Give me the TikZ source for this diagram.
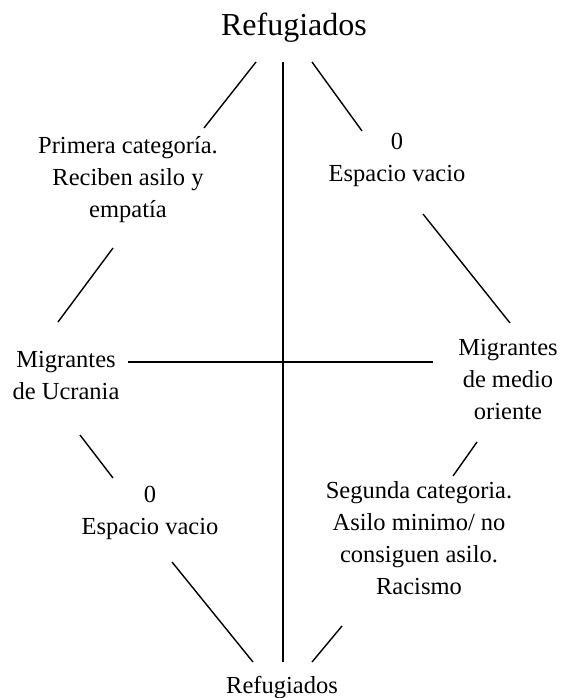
\documentclass[tikz,border=0pt]{standalone}
\usepackage{fontspec}
\setmainfont{Liberation Serif}
\tikzset{
    texto/.style={
        align=center, inner sep=0pt, anchor=north,
        font=\fontsize{24.5}{32}\selectfont
    },
    titulo/.style={
        inner sep=0pt, anchor=base
    },
    linea/.style={line width=1.4pt}
}
\begin{document}
\begin{tikzpicture}[x=1pt, y=-1pt]
    \useasboundingbox (0,0) rectangle (562,698);

    \node[titulo, font=\fontsize{32}{38}\selectfont] (refArriba) at (294,36) {Refugiados};
    \node[titulo, font=\fontsize{24.5}{32}\selectfont] (refAbajo) at (282,693) {Refugiados};

    \node[texto] (primera) at (128,136.3) {Primera categoría.\\Reciben asilo y\\empatía};
    \node[texto] (vacioArriba) at (397,133.4) {0\\Espacio vacio};
    \node[texto] (ucrania) at (66,350.8) {Migrantes\\de Ucrania};
    \node[texto] (medio) at (508,338.8) {Migrantes\\de medio\\oriente};
    \node[texto] (vacioAbajo) at (150,486.4) {0\\Espacio vacio};
    \node[texto] (segunda) at (419,481.3) {Segunda categoria.\\Asilo minimo/ no\\consiguen asilo.\\Racismo};

    % extremos de las lineas
    \coordinate (ejeArriba) at (283,62);
    \coordinate (ejeAbajo) at (283,662);
    \coordinate (ejeIzq) at (128,362);
    \coordinate (ejeDer) at (433,362);
    \coordinate (a1) at (256,62);   \coordinate (a2) at (204,128);
    \coordinate (b1) at (312,62);   \coordinate (b2) at (362,131);
    \coordinate (c1) at (113,248);  \coordinate (c2) at (58,322);
    \coordinate (d1) at (423,214);  \coordinate (d2) at (510,323);
    \coordinate (e1) at (80,435);   \coordinate (e2) at (113,478);
    \coordinate (f1) at (477,442);  \coordinate (f2) at (453,476);
    \coordinate (g1) at (172,562);  \coordinate (g2) at (253,662);
    \coordinate (h1) at (342,626);  \coordinate (h2) at (312,662);

    \draw[linea] (ejeArriba) -- (ejeAbajo);
    \draw[linea] (ejeIzq) -- (ejeDer);
    \draw[linea] (a1) -- (a2);
    \draw[linea] (b1) -- (b2);
    \draw[linea] (c1) -- (c2);
    \draw[linea] (d1) -- (d2);
    \draw[linea] (e1) -- (e2);
    \draw[linea] (f1) -- (f2);
    \draw[linea] (g1) -- (g2);
    \draw[linea] (h1) -- (h2);

\end{tikzpicture}
\end{document}
